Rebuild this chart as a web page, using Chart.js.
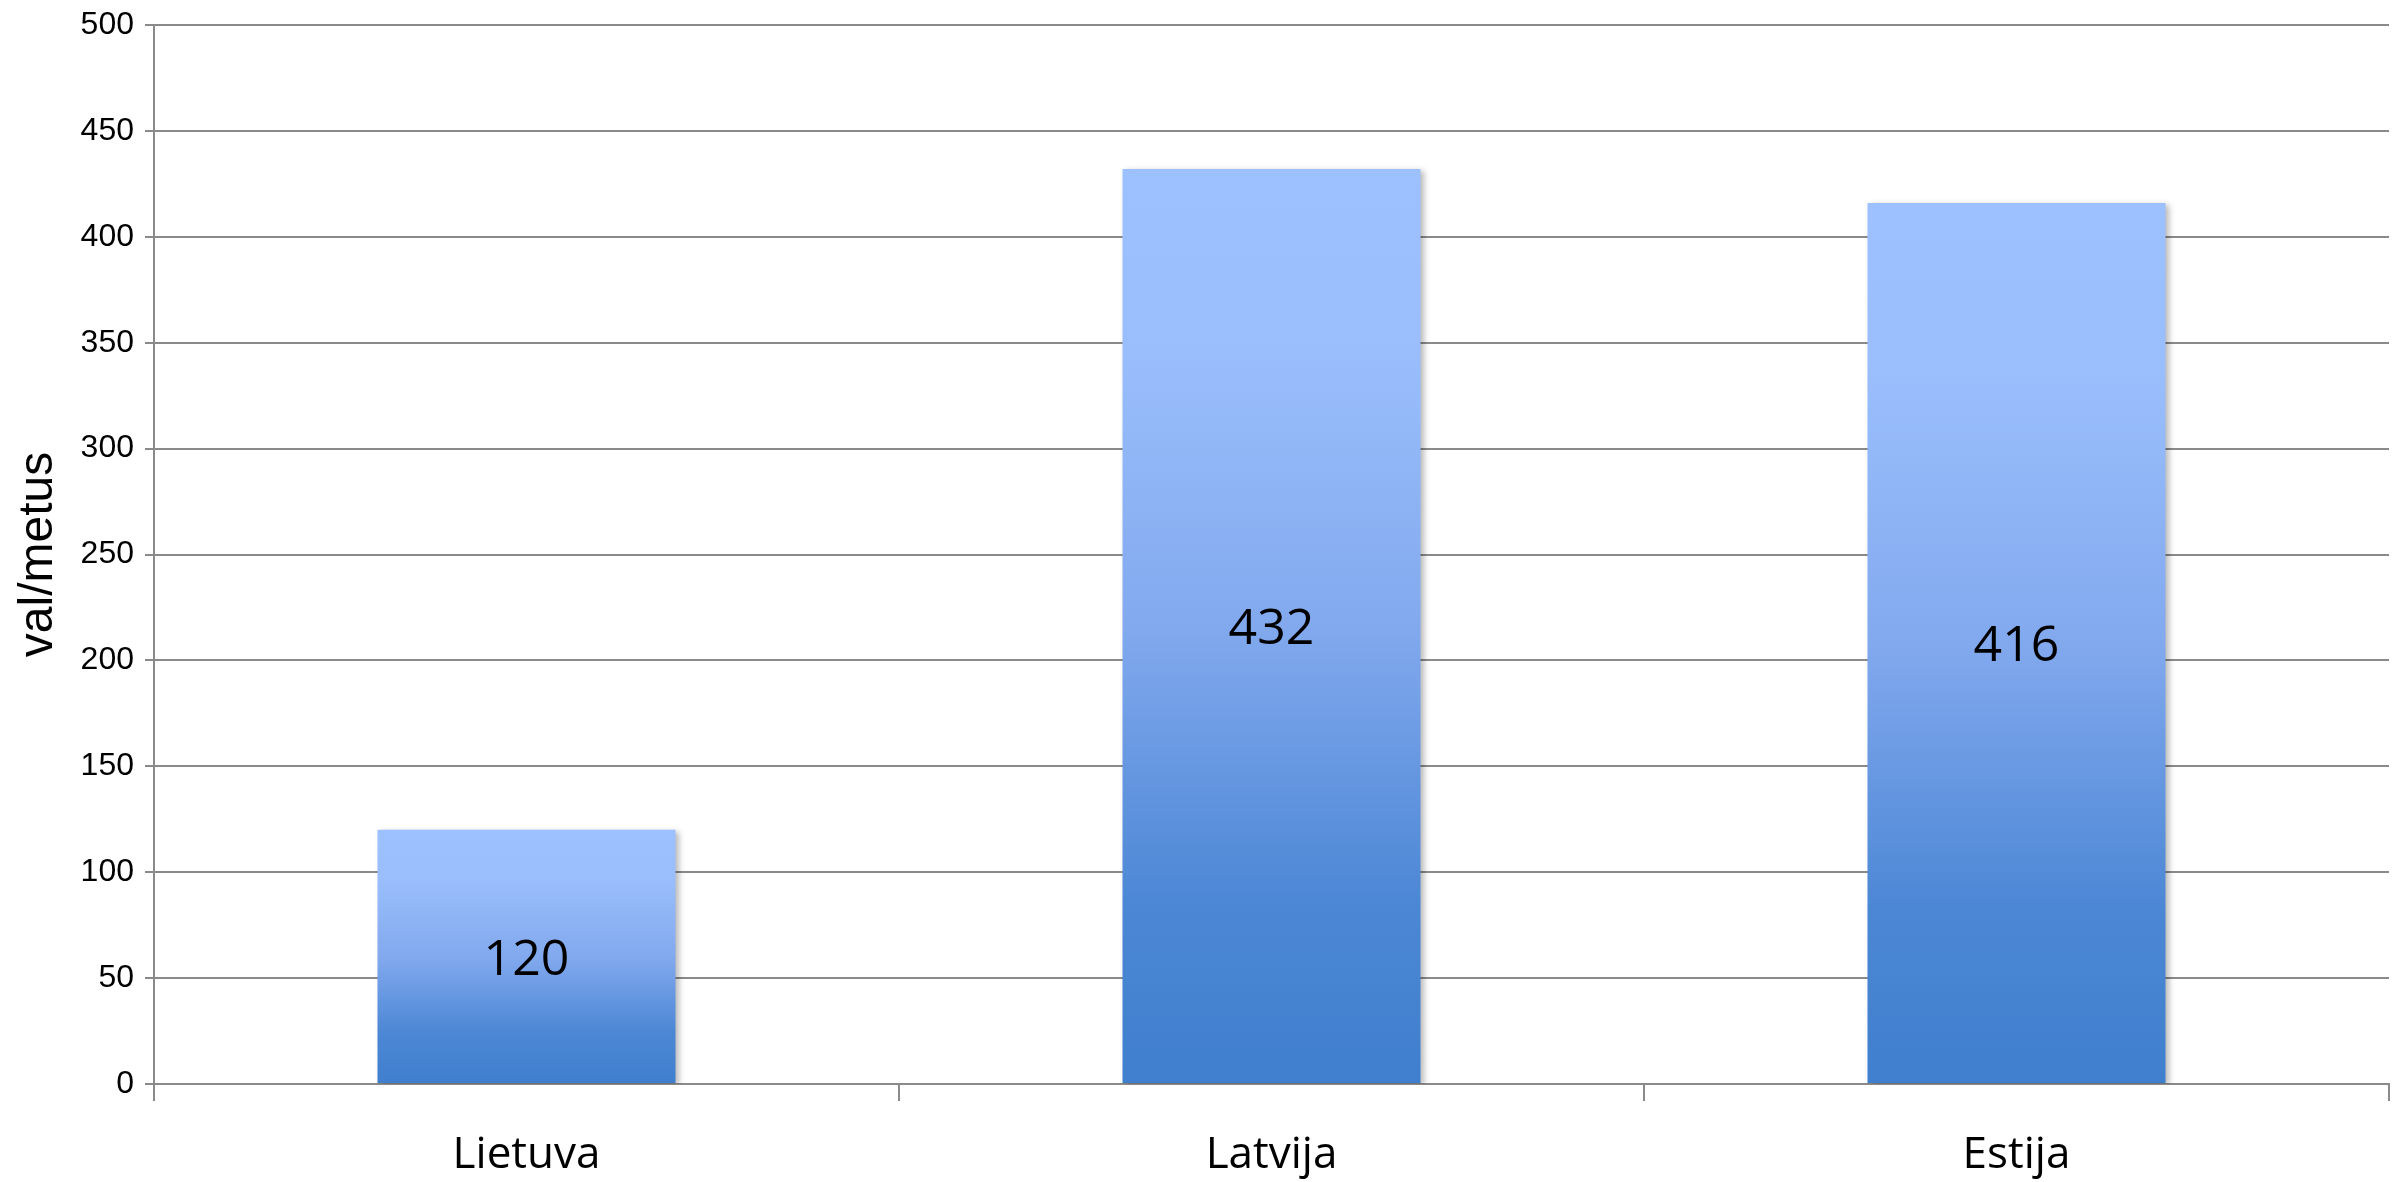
<!DOCTYPE html>
<html>
<head>
<meta charset="utf-8">
<script src="https://cdn.jsdelivr.net/npm/chart.js@4.4.1/dist/chart.umd.min.js"></script>
<style>
  html, body { margin: 0; padding: 0; background: #fff; }
  #wrap { width: 2402px; height: 1182px; position: relative; }
</style>
</head>
<body>
<div id="wrap"><canvas id="chart"></canvas></div>
<script>
const categories = ["Lietuva", "Latvija", "Estija"];
const values = [120, 432, 416];
const yTicks = [0, 50, 100, 150, 200, 250, 300, 350, 400, 450, 500];
const yTitle = "val/metus";

const GRID = "#8a8a8a";

// per-bar vertical gradient, light on top, dark at the base
function barFill(ctx) {
  const chart = ctx.chart;
  const y = chart.scales && chart.scales.y;
  if (!y || !chart.chartArea || ctx.raw == null) return "#6f9be6";
  const top = y.getPixelForValue(ctx.raw);
  const base = y.getPixelForValue(0);
  const g = chart.ctx.createLinearGradient(0, top, 0, base);
  g.addColorStop(0, "#9dc1ff");
  g.addColorStop(0.2, "#9abefc");
  g.addColorStop(0.5, "#82a9ee");
  g.addColorStop(0.8, "#4c87d5");
  g.addColorStop(1, "#3f7fcd");
  return g;
}

const barShadow = {
  id: "barShadow",
  beforeDatasetDraw(chart) {
    const c = chart.ctx;
    c.save();
    c.shadowColor = "rgba(0,0,0,0.28)";
    c.shadowBlur = 6;
    c.shadowOffsetX = 3;
    c.shadowOffsetY = 2;
  },
  afterDatasetDraw(chart) { chart.ctx.restore(); }
};

const centerLabels = {
  id: "centerLabels",
  afterDatasetsDraw(chart) {
    const c = chart.ctx;
    const meta = chart.getDatasetMeta(0);
    c.save();
    c.font = "50px 'Open Sans'";
    c.fillStyle = "#000";
    c.textAlign = "center";
    c.textBaseline = "middle";
    meta.data.forEach((bar, i) => {
      c.fillText(String(values[i]), bar.x, (bar.y + bar.base) / 2 + 4);
    });
    c.restore();
  }
};

new Chart(document.getElementById("chart"), {
  type: "bar",
  data: {
    labels: categories,
    datasets: [{
      data: values,
      backgroundColor: barFill,
      borderWidth: 0,
      barPercentage: 0.4,
      categoryPercentage: 1
    }]
  },
  options: {
    responsive: true,
    maintainAspectRatio: false,
    animation: false,
    layout: { padding: { left: 0, right: 13, top: 25, bottom: 0 } },
    plugins: { legend: { display: false }, tooltip: { enabled: false } },
    scales: {
      x: {
        grid: { drawOnChartArea: false, drawTicks: true, tickLength: 17, color: GRID, lineWidth: 2, offset: true },
        border: { color: GRID, width: 2 },
        ticks: { color: "#000", font: { family: "'Open Sans'", size: 44 }, padding: 28 },
        afterFit: s => { s.height = 98; }
      },
      y: {
        min: 0,
        max: 500,
        afterBuildTicks: s => { s.ticks = yTicks.map(v => ({ value: v })); },
        grid: { color: GRID, lineWidth: 2, tickLength: 9 },
        border: { color: GRID, width: 2 },
        ticks: { color: "#000", font: { family: "'Liberation Sans'", size: 32, lineHeight: 1 }, padding: 11 },
        title: { display: true, text: yTitle, color: "#000", font: { family: "'Liberation Sans'", size: 48 }, padding: { top: 10, bottom: 0 } },
        afterFit: s => { s.width = 154; s.paddingTop = 0; }
      }
    }
  },
  plugins: [barShadow, centerLabels]
});
</script>
</body>
</html>
